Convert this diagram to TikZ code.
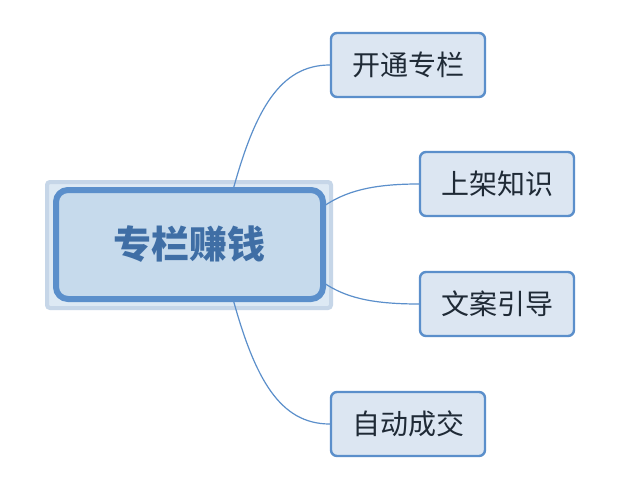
\documentclass[tikz,border=0pt]{standalone}
\usepackage{fontspec}
\newfontfamily\cjk{Noto Sans CJK SC}
\definecolor{linec}{HTML}{5B8FCB}
\definecolor{mainfill}{HTML}{C6DAEC}
\definecolor{halofill}{HTML}{DDE9F4}
\definecolor{halodraw}{HTML}{C6D6E8}
\definecolor{maintext}{HTML}{3F6EA5}
\definecolor{childfill}{HTML}{DCE6F2}
\definecolor{childtext}{HTML}{1F2A36}
\tikzset{
  mainbox/.style={draw=linec, fill=mainfill, line width=6pt, rounded corners=12pt,
    minimum width=267pt, minimum height=109pt, inner sep=0pt,
    font=\cjk\bfseries\fontsize{38}{40}\selectfont, text=maintext},
  childbox/.style={draw=linec, fill=childfill, line width=2.4pt, rounded corners=6pt,
    minimum width=154pt, minimum height=64pt, inner sep=0pt,
    font=\cjk\fontsize{28}{30}\selectfont, text=childtext},
  conn/.style={draw=linec, line width=1.2pt}
}
\begin{document}
\begin{tikzpicture}[x=1pt,y=-1pt]
\useasboundingbox[fill=white] (0,0) rectangle (640,484);
\node[draw=halodraw, fill=halofill, line width=4pt, rounded corners=3pt,
  minimum width=284pt, minimum height=126pt] (halo) at (189,245) {};
\node[childbox] (n1) at (408,65) {开通专栏};
\node[childbox] (n2) at (497,184) {上架知识};
\node[childbox] (n3) at (497,304) {文案引导};
\node[childbox] (n4) at (408,424) {自动成交};
\coordinate (s1) at (233,190);
\coordinate (s2) at (324,206);
\coordinate (s3) at (324,283);
\coordinate (s4) at (233,299);
\draw[conn] (s1) .. controls (255,110) and (280,65) .. (n1.west);
\draw[conn] (s2) .. controls (345,192) and (370,184) .. (n2.west);
\draw[conn] (s3) .. controls (345,297) and (370,304) .. (n3.west);
\draw[conn] (s4) .. controls (255,379) and (280,424) .. (n4.west);
\node[mainbox] (main) at (189.5,244.5) {专栏赚钱};
\end{tikzpicture}
\end{document}
